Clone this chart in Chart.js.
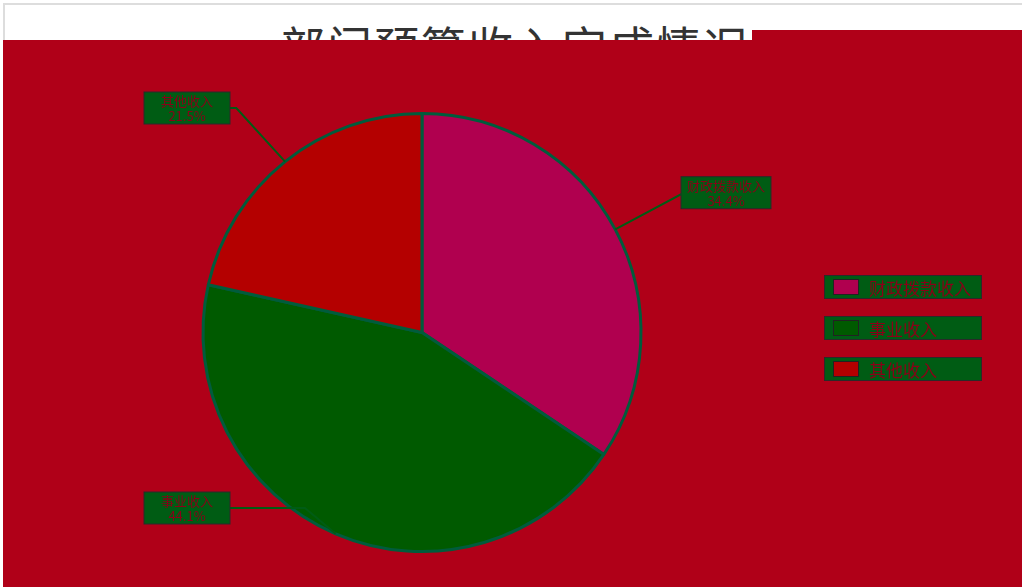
<!DOCTYPE html>
<html>
<head>
<meta charset="utf-8">
<script src="https://cdn.jsdelivr.net/npm/chart.js@4.4.1/dist/chart.umd.min.js"></script>
<style>
    body { margin: 0; width: 1022px; height: 587px; overflow: hidden; background: #fff; font-family: "Noto Sans CJK SC", sans-serif; }
    .frame { position: absolute; left: 3px; top: 3px; right: 0; bottom: 0; border-top: 2px solid #ddd; border-left: 2px solid #ddd; }
    .title { position: absolute; left: 0; width: 1030px; top: 13px; text-align: center; font-size: 45px; color: #333; letter-spacing: 2px; }
    .panel { position: absolute; left: 3px; top: 40px; width: 1019px; height: 547px; background: #b00018; }
    .notch { position: absolute; left: 752px; top: 30px; width: 270px; height: 10px; background: #b00018; }
    .legend { position: absolute; left: 824px; top: 275px; }
    .legend div { display: flex; align-items: center; height: 22px; margin-bottom: 17px; padding: 0 10px 0 8px; background: #005c14; border: 1px solid #2a2a2a; color: #8a0018; font-size: 17px; }
    .legend span { display: inline-block; width: 24px; height: 14px; margin-right: 10px; border: 1px solid #222; }
</style>
</head>
<body>
<div class="frame"></div>
<div class="title">部门预算收入完成情况</div>
<div class="notch"></div>
<div class="panel"><canvas id="myChart" width="1019" height="547"></canvas></div>
<div class="legend" id="legend"></div>
<script>
const categories = ['财政拨款收入', '事业收入', '其他收入'];
const values = [34.4, 44.1, 21.5];
const sliceColors = ['#b0004f', '#005a00', '#b40000'];

// legend on the right
const legendBox = document.getElementById('legend');
categories.forEach((name, i) => {
    const row = document.createElement('div');
    row.innerHTML = '<span style="background:' + sliceColors[i] + '"></span>' + name;
    legendBox.appendChild(row);
});

// outside labels with a leader line, left/right columns like echarts
const outsideLabels = {
    id: 'outsideLabels',
    afterDatasetsDraw(chart) {
        const ctx = chart.ctx;
        const area = chart.chartArea;
        const meta = chart.getDatasetMeta(0);
        const total = values.reduce((a, b) => a + b, 0);
        ctx.save();
        ctx.font = '13px "Noto Sans CJK SC"';
        ctx.textBaseline = 'middle';
        meta.data.forEach((arc, i) => {
            const mid = (arc.startAngle + arc.endAngle) / 2;
            const r = arc.outerRadius;
            const x1 = arc.x + Math.cos(mid) * r;
            const y1 = arc.y + Math.sin(mid) * r;
            const x2 = arc.x + Math.cos(mid) * (r + 78);
            let y2 = arc.y + Math.sin(mid) * (r + 78);
            y2 = Math.max(area.top - 4, Math.min(area.bottom - 45, y2));
            const right = Math.cos(mid) >= 0;
            const lines = [categories[i], (values[i] / total * 100).toFixed(1) + '%'];
            const w = Math.max(86, Math.max(...lines.map(t => ctx.measureText(t).width)) + 12);
            const bx = right ? arc.x + r + 40 : arc.x - r + 27 - w;
            const x3 = right ? bx : bx + w;
            ctx.strokeStyle = '#005c14';
            ctx.lineWidth = 2;
            ctx.beginPath();
            ctx.moveTo(x1, y1);
            ctx.lineTo(x2, y2);
            ctx.lineTo(x3, y2);
            ctx.stroke();

            ctx.fillStyle = '#005c14';
            ctx.fillRect(bx, y2 - 16, w, 32);
            ctx.strokeStyle = '#2a2a2a';
            ctx.lineWidth = 1;
            ctx.strokeRect(bx, y2 - 16, w, 32);
            ctx.fillStyle = '#8a0018';
            ctx.textAlign = 'center';
            ctx.fillText(lines[0], bx + w / 2, y2 - 7);
            ctx.fillText(lines[1], bx + w / 2, y2 + 8);
        });
        ctx.restore();
    }
};

new Chart(document.getElementById('myChart').getContext('2d'), {
    type: 'pie',
    data: {
        labels: categories,
        datasets: [{
            data: values,
            backgroundColor: sliceColors,
            borderColor: '#005c3c',
            borderWidth: 3
        }]
    },
    options: {
        responsive: false,
        animation: false,
        layout: { padding: { left: 196, right: 377, top: 72, bottom: 34 } },
        plugins: {
            legend: { display: false },
            tooltip: { enabled: false }
        }
    },
    plugins: [outsideLabels]
});
</script>
</body>
</html>
